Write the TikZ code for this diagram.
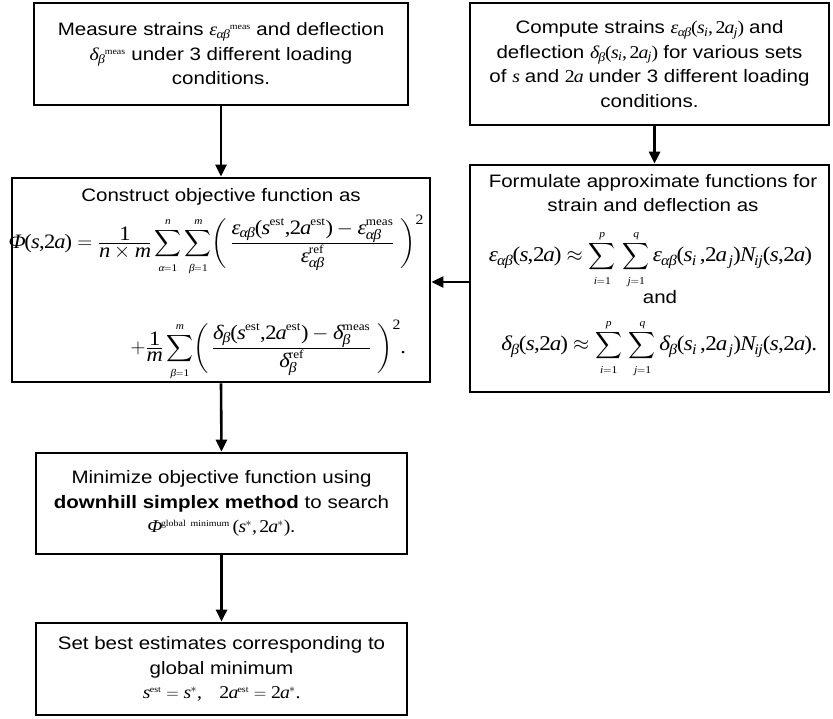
\documentclass[tikz,border=0pt]{standalone}
\usepackage{amsmath}
\usepackage{graphicx}
\usepackage[no-math]{fontspec}
\setmainfont{Liberation Sans}[FakeStretch=1.14]
\newfontfamily\tms[NFSSFamily=tmsfam,FakeStretch=1.1]{Liberation Serif}
\DeclareSymbolFont{tmsit}{TU}{tmsfam}{m}{it}
\DeclareSymbolFont{tmsup}{TU}{tmsfam}{m}{n}
\newcommand{\setit}[1]{\Umathcode`#1=0 \symtmsit `#1\relax}
\newcommand{\setup}[1]{\Umathcode`#1=0 \symtmsup `#1\relax}
\setit s \setit a \setit n \setit m \setit i \setit j \setit p \setit q \setit N
\setup 0 \setup 1 \setup 2 \setup 3 \setup 4 \setup 5 \setup 6 \setup 7 \setup 8 \setup 9
\setup , \setup ( \setup ) \setup .
\Umathchardef\myeps=0 \symtmsit "03B5\relax
\Umathchardef\mydel=0 \symtmsit "03B4\relax
\Umathchardef\myal=0 \symtmsit "03B1\relax
\Umathchardef\mybe=0 \symtmsit "03B2\relax
\Umathchardef\myPhi=0 \symtmsit "03A6\relax
\usetikzlibrary{arrows.meta}
\newcommand{\up}[1]{\text{\tms\fontsize{12}{12}\selectfont #1}}
\newcommand{\smallsup}[1]{\text{\tms\fontsize{9}{9}\selectfont #1}}
\newcommand{\bsum}{\mathop{\vcenter{\hbox{\scalebox{0.9}{$\displaystyle\sum$}}}}\limits}
\newcommand{\tf}[2]{{\textstyle\frac{\displaystyle #1}{\displaystyle #2}}}
\newcommand{\sss}{\scriptscriptstyle}
\begin{document}
\begin{tikzpicture}[x=1pt,y=-1pt,
  box/.style={draw, line width=2.6pt, align=center, inner sep=0pt, font=\fontsize{18}{24.5}\selectfont},
  txt/.style={inner sep=0pt, align=center, font=\fontsize{18}{23}\selectfont},
  eqA/.style={inner sep=0pt, font=\fontsize{20.5}{25}\selectfont},
  eqB/.style={inner sep=0pt, font=\fontsize{21}{23}\selectfont},
  arr/.style={line width=2.6pt, -{Triangle[length=12pt,width=11pt]}}]
\useasboundingbox (0,0) rectangle (833,719);

\node[box, minimum width=374, minimum height=102] (b1) at (221,54)
  {Measure strains $\myeps_{\myal\mybe}{}^{\smallsup{meas}}$ and deflection\\
   $\mydel_{\mybe}{}^{\smallsup{meas}}$ under 3 different loading\\ conditions.};

\node[box, minimum width=359, minimum height=122] (b2) at (649.5,64)
  {Compute strains $\myeps_{\myal\mybe}(s_i,\,2a_j)$ and\\
   deflection $\mydel_{\mybe}(s_i,\,2a_j)$ for various sets\\
   of $s$ and $2a$ under 3 different loading\\ conditions.};

\node[box, minimum width=418, minimum height=204] (b3) at (221,280) {};
\node[txt, anchor=base] (b3t) at (221,202) {Construct objective function as};
\node[eqA, anchor=base] (b3e1) at (216,249)
  {$\displaystyle \myPhi(s,2a)=\tf{1}{n\times m}\bsum_{\sss\myal=1}^{\sss n}\bsum_{\sss\mybe=1}^{\sss m}\biggl(\,\tf{\myeps_{\myal\mybe}(s^{\up{est}},2a^{\up{est}})-\myeps_{\myal\mybe}^{\up{meas}}}{\myeps_{\myal\mybe}^{\up{ref}}}\;\biggr)^{2}$};
\node[eqA, anchor=base] (b3e2) at (268,354)
  {$\displaystyle +\tf{1}{m}\bsum_{\sss\mybe=1}^{\sss m}\biggl(\,\tf{\mydel_{\mybe}(s^{\up{est}},2a^{\up{est}})-\mydel_{\mybe}^{\up{meas}}}{\mydel_{\mybe}^{\up{ref}}}\;\biggr)^{2}.$};

\node[box, minimum width=359, minimum height=227] (b4) at (649.5,278.5) {};
\node[txt, anchor=base] (b4t1) at (653,188) {Formulate approximate functions for};
\node[txt, anchor=base] (b4t2) at (653,212) {strain and deflection as};
\node[eqB, anchor=base] (b4e1) at (650,262)
  {$\displaystyle \myeps_{\myal\mybe}(s,2a)\approx\bsum_{\sss i=1}^{\sss p}\,\bsum_{\sss j=1}^{\sss q}\myeps_{\myal\mybe}(s_i\,,2a_{\,j})N_{ij}(s,2a)$};
\node[txt, anchor=base] (b4and) at (660,304) {and};
\node[eqB, anchor=base] (b4e2) at (659,351)
  {$\displaystyle \mydel_{\mybe}(s,2a)\approx\bsum_{\sss i=1}^{\sss p}\,\bsum_{\sss j=1}^{\sss q}\mydel_{\mybe}(s_i\,,2a_{\,j})N_{ij}(s,2a).$};

\node[box, minimum width=371, minimum height=101] (b5) at (221.5,503.5)
  {Minimize objective function using\\
   \textbf{downhill simplex method} to search\\
   $\myPhi^{\smallsup{global\ \ minimum}}\,(s^{*},\,2a^{*})$.};

\node[box, minimum width=371, minimum height=92] (b6) at (221.5,669)
  {Set best estimates corresponding to\\ global minimum\\
   $s^{\smallsup{est}}=s^{*},\quad 2a^{\smallsup{est}}=2a^{*}.$};

\coordinate (ya) at (0,282);
\draw[arr] (b1.south) -- (b3.north);
\draw[arr] ([xshift=5pt]b2.south) -- ([xshift=5pt]b2.south |- b4.north);
\draw[arr] (b4.west |- ya) -- (b3.east |- ya);
\draw[arr] (b3.south) -- (b5.north);
\draw[arr] (b5.south) -- (b6.north);
\end{tikzpicture}
\end{document}
